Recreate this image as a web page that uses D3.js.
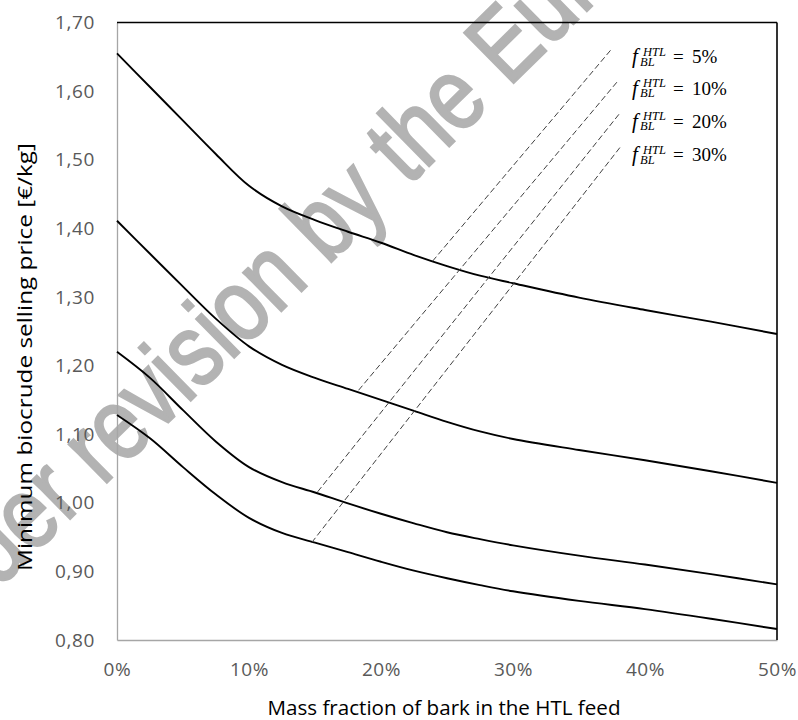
<!DOCTYPE html>
<html>
<head>
<meta charset="utf-8">
<script src="https://cdn.jsdelivr.net/npm/d3@7"></script>
<style>
  body { margin: 0; background: #fff; }
  svg { display: block; }
</style>
</head>
<body>
<svg id="chart" width="798" height="720"></svg>
<script>
// ---------- data ----------
const barkFraction = [0, 2.5, 5, 7.5, 10, 12.5, 15, 17.5, 20, 22.5, 25, 27.5, 30, 35, 40, 45, 50];
const priceCurve1 = [1.655, 1.606, 1.557, 1.508, 1.462, 1.432, 1.412, 1.395, 1.379, 1.361, 1.345, 1.331, 1.320, 1.299, 1.281, 1.264, 1.246];
const priceCurve2 = [1.411, 1.363, 1.315, 1.268, 1.228, 1.201, 1.182, 1.166, 1.150, 1.134, 1.118, 1.104, 1.093, 1.077, 1.062, 1.046, 1.029];
const priceCurve3 = [1.220, 1.182, 1.135, 1.089, 1.052, 1.030, 1.015, 0.999, 0.984, 0.970, 0.957, 0.947, 0.938, 0.923, 0.910, 0.896, 0.881];
const priceCurve4 = [1.128, 1.094, 1.052, 1.012, 0.978, 0.956, 0.942, 0.928, 0.914, 0.901, 0.890, 0.880, 0.871, 0.857, 0.845, 0.831, 0.816];

const isoLabels = ["5%", "10%", "20%", "30%"];
const isoStart = [[23.9, 1.352], [18.3, 1.164], [15.2, 1.016], [14.75, 0.942]];
const isoEnd   = [[37.5, 1.662], [38.0, 1.616], [38.1, 1.568], [38.15, 1.519]];

const yTicks = [0.80, 0.90, 1.00, 1.10, 1.20, 1.30, 1.40, 1.50, 1.60, 1.70];
const xTicks = [0, 10, 20, 30, 40, 50];

const xTitle = "Mass fraction of bark in the HTL feed";
const yTitle = "Minimum biocrude selling price [€/kg]";
const watermarkBefore = "under";
const watermarkAfter = "revision by the European";

// ---------- setup ----------
const svg = d3.select("#chart");
const pLeft = 117, pRight = 777, pTop = 22.5, pBottom = 640;
const x = d3.scaleLinear().domain([0, 50]).range([pLeft, pRight]);
const y = d3.scaleLinear().domain([0.8, 1.7]).range([pBottom, pTop]);
const loc = d3.formatLocale({ decimal: ",", thousands: ".", grouping: [3], currency: ["", "€"] });
const fmtY = loc.format(".2f");

// ---------- watermark ----------
(function () {
  const F = 102, sx = 0.83;
  const ang = -44.5, rad = ang * Math.PI / 180;
  const ux = Math.cos(rad), uy = Math.sin(rad);
  const dx = -Math.sin(rad), dy = Math.cos(rad);
  const rc = [94, 458];
  const bx = rc[0] + 0.26 * F * dx - 0.1665 * F * sx * ux;
  const by = rc[1] + 0.26 * F * dy - 0.1665 * F * sx * uy;
  const g = svg.append("g")
    .attr("transform", `translate(${bx},${by}) rotate(${ang}) scale(${sx},1)`)
    .attr("fill", "#b3b3b3").attr("stroke", "#b3b3b3").attr("stroke-width", 2.5)
    .style("font-family", "'Liberation Sans', Arial, sans-serif")
    .style("font-size", F + "px");
  g.append("text").attr("x", 0).attr("y", 0).text(watermarkAfter);
  g.append("text").attr("x", -0.278 * F).attr("y", 0).attr("text-anchor", "end").text(watermarkBefore);
})();

// ---------- axes ----------
const axFont = "'Open Sans', 'Liberation Sans', sans-serif";
const gy = svg.append("g").attr("transform", `translate(${pLeft},0)`)
  .call(d3.axisLeft(y).tickValues(yTicks).tickSize(0).tickSizeOuter(0).tickPadding(22).tickFormat(fmtY));
const gx = svg.append("g").attr("transform", `translate(0,${pBottom})`)
  .call(d3.axisBottom(x).tickValues(xTicks).tickSize(0).tickSizeOuter(0).tickPadding(23).tickFormat(d => d + "%"));
[gy, gx].forEach(g => {
  g.select(".domain").attr("stroke", "#a6a6a6").attr("stroke-width", 1.3);
  g.selectAll("text").attr("fill", "#595959").style("font-family", axFont).style("font-size", "19px").style("letter-spacing", "0.6px");
});

svg.append("line").attr("x1", pLeft).attr("x2", pRight).attr("y1", pTop).attr("y2", pTop).attr("stroke", "#000").attr("stroke-width", 1.4);
svg.append("line").attr("x1", pRight).attr("x2", pRight).attr("y1", pTop).attr("y2", pBottom).attr("stroke", "#000").attr("stroke-width", 1.6);

// ---------- curves ----------
const line = d3.line().x(d => x(d[0])).y(d => y(d[1])).curve(d3.curveCatmullRom.alpha(0.5));
[priceCurve1, priceCurve2, priceCurve3, priceCurve4].forEach(series => {
  svg.append("path")
    .datum(barkFraction.map((b, i) => [b, series[i]]))
    .attr("d", line)
    .attr("fill", "none")
    .attr("stroke", "#000")
    .attr("stroke-width", 1.9);
});

// ---------- iso lines ----------
isoLabels.forEach((lab, i) => {
  svg.append("line")
    .attr("x1", x(isoStart[i][0])).attr("y1", y(isoStart[i][1]))
    .attr("x2", x(isoEnd[i][0])).attr("y2", y(isoEnd[i][1]))
    .attr("stroke", "#404040").attr("stroke-width", 1)
    .attr("stroke-dasharray", "6,3");
  const lx = 632, ly = y(isoEnd[i][1]) + 14.5;
  const t = svg.append("text").attr("x", lx).attr("y", ly)
    .style("font-family", "'Liberation Serif', 'DejaVu Serif', serif").attr("fill", "#000");
  t.append("tspan").attr("x", lx).attr("y", ly).style("font-style", "italic").style("font-size", "21px").text("f");
  t.append("tspan").attr("x", lx + 11).attr("y", ly - 7.5).style("font-style", "italic").style("font-size", "12.5px").text("HTL");
  t.append("tspan").attr("x", lx + 8).attr("y", ly + 2.5).style("font-style", "italic").style("font-size", "12.5px").text("BL");
  t.append("tspan").attr("x", lx + 41).attr("y", ly).style("font-size", "19px").text("=");
  t.append("tspan").attr("x", lx + 60).attr("y", ly).style("font-size", "19px").text(lab);
});

// ---------- titles ----------
svg.append("text")
  .attr("x", 444).attr("y", 714.5).attr("text-anchor", "middle")
  .style("font-family", axFont).style("font-size", "20px").attr("fill", "#000")
  .attr("textLength", 353).attr("lengthAdjust", "spacingAndGlyphs")
  .text(xTitle);
svg.append("text")
  .attr("transform", "translate(31.5,357) rotate(-90)").attr("text-anchor", "middle")
  .style("font-family", axFont).style("font-size", "20px").attr("fill", "#000")
  .attr("textLength", 428).attr("lengthAdjust", "spacingAndGlyphs")
  .text(yTitle);
</script>
</body>
</html>
